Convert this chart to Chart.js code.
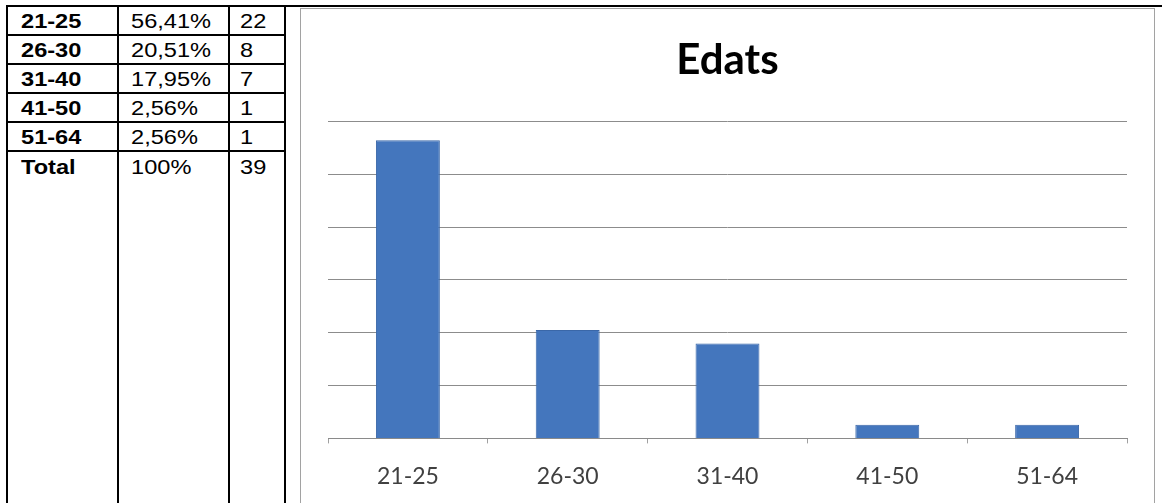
<!DOCTYPE html>
<html>
<head>
<meta charset="utf-8">
<script src="https://cdn.jsdelivr.net/npm/chart.js@4"></script>
<style>
  html, body { margin:0; padding:0; background:#fff; width:1164px; height:503px; overflow:hidden; }
  #tbl { position:absolute; left:6px; top:5px; border-collapse:collapse; table-layout:fixed; }
  #tbl td { border:2px solid #000; padding:0; font-family:"Liberation Sans", Arial, sans-serif; font-size:20px; color:#000; height:25px; vertical-align:middle; white-space:nowrap; overflow:hidden; }
  #tbl td.c1 { padding-left:13px; padding-top:2px; font-weight:bold; }
  #tbl td.c2 { padding-left:12px; padding-top:2px; }
  #tbl td.c3 { padding-left:10px; padding-top:2px; }
  #tbl td span { display:inline-block; transform:scaleX(1.18); transform-origin:left center; }
  #tbl tr.total td { height:380px; vertical-align:top; padding-top:4px; }
  #tbl td.chartcell { border-right:none; border-bottom:none; vertical-align:top; padding:0; }
  #chartbox { position:absolute; left:300px; top:8px; width:853px; height:500px; border:1.5px solid #a2a2a2; background:#fff; }
  #chart { position:absolute; left:0; top:0; }
</style>
</head>
<body>
<table id="tbl">
  <colgroup><col style="width:111px"><col style="width:111px"><col style="width:56px"><col style="width:877px"></colgroup>
  <tbody id="tbody"></tbody>
</table>
<div id="chartbox"><canvas id="chart" width="853" height="500"></canvas></div>
<script>
const categories = ['21-25', '26-30', '31-40', '41-50', '51-64'];
const percentages = [56.41, 20.51, 17.95, 2.56, 2.56];
const counts = [22, 8, 7, 1, 1];
const totalLabel = 'Total';
const totalPercentText = '100%';
const chartTitle = 'Edats';
const yTicks = [0, 10, 20, 30, 40, 50, 60];

// build the table
const tbody = document.getElementById('tbody');
function pctText(v){ return v.toFixed(2).replace('.', ',') + '%'; }
categories.forEach((c, i) => {
  const tr = document.createElement('tr');
  tr.innerHTML = '<td class="c1"><span>' + c + '</span></td><td class="c2"><span>' + pctText(percentages[i]) +
    '</span></td><td class="c3"><span>' + counts[i] + '</span></td>' +
    (i === 0 ? '<td class="chartcell" rowspan="' + (categories.length + 1) + '"></td>' : '');
  tbody.appendChild(tr);
});
const trT = document.createElement('tr');
trT.className = 'total';
const totalCount = counts.reduce((a, b) => a + b, 0);
trT.innerHTML = '<td class="c1"><span>' + totalLabel + '</span></td><td class="c2"><span>' + totalPercentText +
  '</span></td><td class="c3"><span>' + totalCount + '</span></td>';
tbody.appendChild(trT);

function draw(){
  new Chart(document.getElementById('chart'), {
    type: 'bar',
    data: {
      labels: categories,
      datasets: [{
        data: percentages,
        backgroundColor: '#4476bd',
        borderColor: '#3a67a8',
        borderWidth: 1,
        barPercentage: 0.4,
        categoryPercentage: 1
      }]
    },
    options: {
      responsive: false,
      animation: false,
      devicePixelRatio: 1,
      layout: { padding: { left: 27, right: 27, top: 0, bottom: 0 } },
      plugins: {
        legend: { display: false },
        tooltip: { enabled: false },
        title: {
          display: true, text: chartTitle, color: '#000',
          font: { family: 'Lato', weight: 'bold', size: 42 },
          padding: { top: 26, bottom: 36 }
        }
      },
      scales: {
        x: {
          grid: { offset: true, drawOnChartArea: false, tickLength: 5, color: '#a0a0a0' },
          border: { color: '#8a8a8a' },
          ticks: { font: { family: 'Lato', size: 23 }, color: '#404040', padding: 19 }
        },
        y: {
          min: yTicks[0], max: yTicks[yTicks.length - 1],
          afterBuildTicks: (s) => { s.ticks = yTicks.map(v => ({ value: v })); },
          ticks: { display: false },
          grid: { color: '#8c8c8c', drawTicks: false },
          border: { display: false }
        }
      }
    }
  });
}
Promise.all([
  document.fonts.load('bold 42px Lato'),
  document.fonts.load('23px Lato')
]).then(draw, draw);
</script>
</body>
</html>
